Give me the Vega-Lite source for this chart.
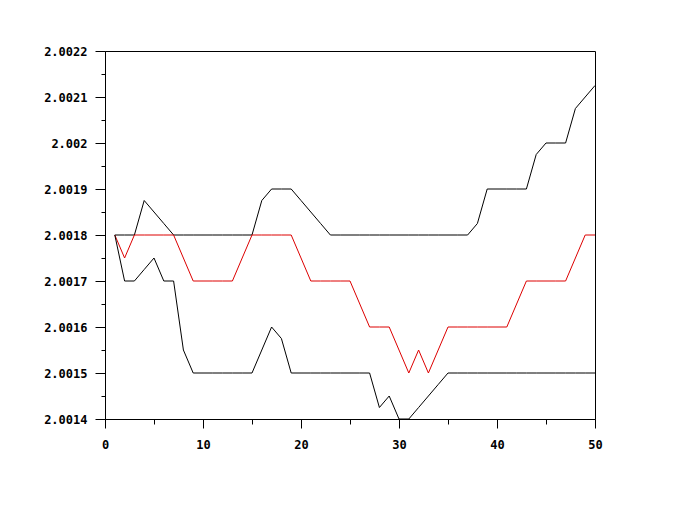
{
  "$schema": "https://vega.github.io/schema/vega-lite/v6.json",
  "width": 490,
  "height": 368,
  "autosize": {"type": "none"},
  "padding": {"left": 105, "top": 51, "right": 105, "bottom": 106},
  "background": "white",
  "config": {
    "view": {"stroke": "black", "strokeWidth": 1},
    "axis": {
      "domainColor": "black",
      "tickColor": "black",
      "labelColor": "black",
      "labelFont": "DejaVu Sans Mono",
      "labelFontWeight": "bold",
      "labelFontSize": 12,
      "grid": false,
      "title": null
    }
  },
  "data": {
    "values": [
      {"x": 1, "upper": 2.0018, "middle": 2.0018, "lower": 2.0018},
      {"x": 2, "upper": 2.0018, "middle": 2.00175, "lower": 2.0017},
      {"x": 3, "upper": 2.0018, "middle": 2.0018, "lower": 2.0017},
      {"x": 4, "upper": 2.001875, "middle": 2.0018, "lower": 2.001725},
      {"x": 5, "upper": 2.00185, "middle": 2.0018, "lower": 2.00175},
      {"x": 6, "upper": 2.001825, "middle": 2.0018, "lower": 2.0017},
      {"x": 7, "upper": 2.0018, "middle": 2.0018, "lower": 2.0017},
      {"x": 8, "upper": 2.0018, "middle": 2.00175, "lower": 2.00155},
      {"x": 9, "upper": 2.0018, "middle": 2.0017, "lower": 2.0015},
      {"x": 10, "upper": 2.0018, "middle": 2.0017, "lower": 2.0015},
      {"x": 11, "upper": 2.0018, "middle": 2.0017, "lower": 2.0015},
      {"x": 12, "upper": 2.0018, "middle": 2.0017, "lower": 2.0015},
      {"x": 13, "upper": 2.0018, "middle": 2.0017, "lower": 2.0015},
      {"x": 14, "upper": 2.0018, "middle": 2.00175, "lower": 2.0015},
      {"x": 15, "upper": 2.0018, "middle": 2.0018, "lower": 2.0015},
      {"x": 16, "upper": 2.001875, "middle": 2.0018, "lower": 2.00155},
      {"x": 17, "upper": 2.0019, "middle": 2.0018, "lower": 2.0016},
      {"x": 18, "upper": 2.0019, "middle": 2.0018, "lower": 2.001575},
      {"x": 19, "upper": 2.0019, "middle": 2.0018, "lower": 2.0015},
      {"x": 20, "upper": 2.001875, "middle": 2.00175, "lower": 2.0015},
      {"x": 21, "upper": 2.00185, "middle": 2.0017, "lower": 2.0015},
      {"x": 22, "upper": 2.001825, "middle": 2.0017, "lower": 2.0015},
      {"x": 23, "upper": 2.0018, "middle": 2.0017, "lower": 2.0015},
      {"x": 24, "upper": 2.0018, "middle": 2.0017, "lower": 2.0015},
      {"x": 25, "upper": 2.0018, "middle": 2.0017, "lower": 2.0015},
      {"x": 26, "upper": 2.0018, "middle": 2.00165, "lower": 2.0015},
      {"x": 27, "upper": 2.0018, "middle": 2.0016, "lower": 2.0015},
      {"x": 28, "upper": 2.0018, "middle": 2.0016, "lower": 2.001425},
      {"x": 29, "upper": 2.0018, "middle": 2.0016, "lower": 2.00145},
      {"x": 30, "upper": 2.0018, "middle": 2.00155, "lower": 2.0014},
      {"x": 31, "upper": 2.0018, "middle": 2.0015, "lower": 2.0014},
      {"x": 32, "upper": 2.0018, "middle": 2.00155, "lower": 2.001425},
      {"x": 33, "upper": 2.0018, "middle": 2.0015, "lower": 2.00145},
      {"x": 34, "upper": 2.0018, "middle": 2.00155, "lower": 2.001475},
      {"x": 35, "upper": 2.0018, "middle": 2.0016, "lower": 2.0015},
      {"x": 36, "upper": 2.0018, "middle": 2.0016, "lower": 2.0015},
      {"x": 37, "upper": 2.0018, "middle": 2.0016, "lower": 2.0015},
      {"x": 38, "upper": 2.001825, "middle": 2.0016, "lower": 2.0015},
      {"x": 39, "upper": 2.0019, "middle": 2.0016, "lower": 2.0015},
      {"x": 40, "upper": 2.0019, "middle": 2.0016, "lower": 2.0015},
      {"x": 41, "upper": 2.0019, "middle": 2.0016, "lower": 2.0015},
      {"x": 42, "upper": 2.0019, "middle": 2.00165, "lower": 2.0015},
      {"x": 43, "upper": 2.0019, "middle": 2.0017, "lower": 2.0015},
      {"x": 44, "upper": 2.001975, "middle": 2.0017, "lower": 2.0015},
      {"x": 45, "upper": 2.002, "middle": 2.0017, "lower": 2.0015},
      {"x": 46, "upper": 2.002, "middle": 2.0017, "lower": 2.0015},
      {"x": 47, "upper": 2.002, "middle": 2.0017, "lower": 2.0015},
      {"x": 48, "upper": 2.002075, "middle": 2.00175, "lower": 2.0015},
      {"x": 49, "upper": 2.0021, "middle": 2.0018, "lower": 2.0015},
      {"x": 50, "upper": 2.002125, "middle": 2.0018, "lower": 2.0015}
    ]
  },
  "transform": [
    {"fold": ["upper", "middle", "lower"], "as": ["series", "value"]}
  ],
  "mark": {"type": "line", "strokeWidth": 1, "clip": true},
  "encoding": {
    "x": {
      "field": "x",
      "type": "quantitative",
      "scale": {"domain": [0, 50], "nice": false, "zero": false},
      "axis": {
        "values": [0, 5, 10, 15, 20, 25, 30, 35, 40, 45, 50],
        "labelExpr": "datum.value % 10 === 0 ? datum.label : ''",
        "tickSize": {"condition": {"test": "datum.value % 10 === 0", "value": 9}, "value": 5},
        "labelPadding": 11,
        "labelFlush": false
      }
    },
    "y": {
      "field": "value",
      "type": "quantitative",
      "scale": {"domain": [2.0014, 2.0022], "nice": false, "zero": false},
      "axis": {
        "values": [2.0014, 2.00145, 2.0015, 2.00155, 2.0016, 2.00165, 2.0017, 2.00175, 2.0018, 2.00185, 2.0019, 2.00195, 2.002, 2.00205, 2.0021, 2.00215, 2.0022],
        "format": ".6~g",
        "labelExpr": "abs(round(datum.value * 10000) - datum.value * 10000) < 0.01 ? datum.label : ''",
        "tickSize": {"condition": {"test": "abs(round(datum.value * 10000) - datum.value * 10000) < 0.01", "value": 10}, "value": 4},
        "labelPadding": 8,
        "labelFlush": false
      }
    },
    "color": {
      "field": "series",
      "type": "nominal",
      "scale": {"domain": ["upper", "middle", "lower"], "range": ["black", "#dd0000", "black"]},
      "legend": null
    },
    "detail": {"field": "series"}
  }
}
